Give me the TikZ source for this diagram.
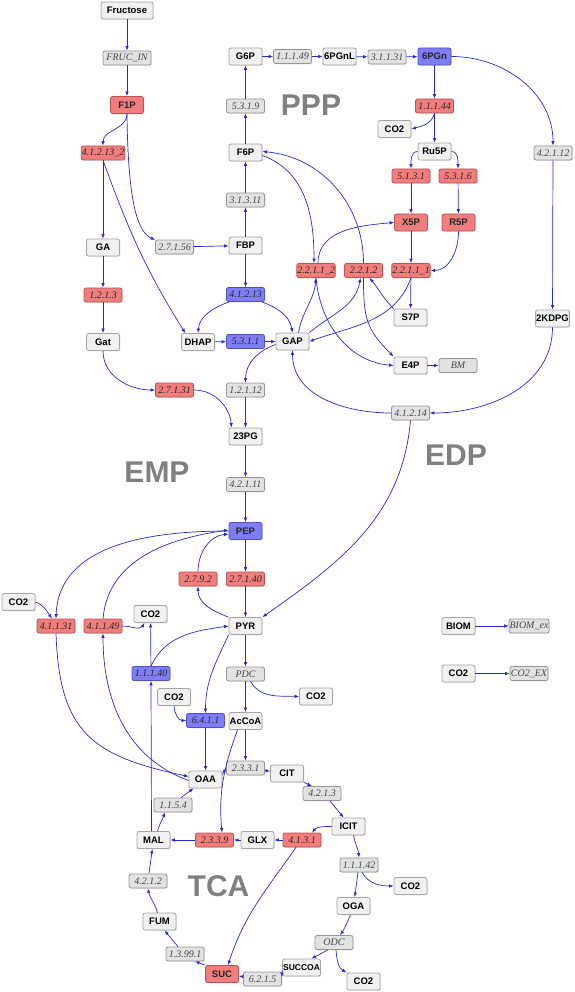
\documentclass[tikz,border=0pt]{standalone}
\usepackage{fontspec}
\setmainfont{Liberation Serif}
\setsansfont{Liberation Sans}
\usetikzlibrary{arrows.meta,shadows}
\definecolor{fluxblue}{RGB}{40,40,215}
\definecolor{metfill}{RGB}{241,241,241}
\definecolor{metline}{RGB}{165,165,165}
\definecolor{rxnfill}{RGB}{226,226,226}
\definecolor{rxnline}{RGB}{150,150,150}
\definecolor{rxntext}{RGB}{70,70,70}
\definecolor{hifill}{RGB}{242,125,125}
\definecolor{hiline}{RGB}{185,85,85}
\definecolor{lofill}{RGB}{126,126,246}
\definecolor{loline}{RGB}{80,80,200}

\begin{document}
\begin{tikzpicture}[x=1pt,y=1pt,
  met/.style={draw=metline,fill=metfill,rounded corners=2pt,line width=0.8pt,
    minimum width=33,minimum height=17,inner sep=0.5pt,
    drop shadow={opacity=0.2,shadow xshift=0.8pt,shadow yshift=-0.8pt},
    font=\sffamily\bfseries\fontsize{9.5}{10}\selectfont},
  rxn/.style={draw=rxnline,fill=rxnfill,rounded corners=2pt,line width=0.8pt,
    minimum width=38,minimum height=14,inner sep=0.5pt,text=rxntext,
    drop shadow={opacity=0.2,shadow xshift=0.8pt,shadow yshift=-0.8pt},
    font=\itshape\fontsize{10}{10}\selectfont},
  hi/.style={draw=hiline,fill=hifill,text=black!85},
  lo/.style={draw=loline,fill=lofill,text=black!85},
  flux/.style={draw=fluxblue,line width=0.7pt,-{Latex[length=4.5pt,width=3.5pt]}},
  pwlabel/.style={text=black!50,font=\sffamily\bfseries\fontsize{30}{30}\selectfont}]
  \useasboundingbox (0,0) rectangle (574,-992);

  \node[met,minimum width=52] (mFru) at (127,-10.5) {Fructose};
  \node[rxn,minimum width=48] (rFRUC) at (127,-58) {FRUC\_IN};
  \node[met,hi] (mF1P) at (127,-105) {F1P};
  \node[rxn,hi] (r41213b) at (103,-153) {4.1.2.13\_2};
  \node[met] (mG6P) at (245.5,-56.5) {G6P};
  \node[rxn] (r5319) at (245.5,-106) {5.3.1.9};
  \node[met] (mF6P) at (245.5,-152.5) {F6P};
  \node[rxn] (r31311) at (245.5,-200) {3.1.3.11};
  \node[met] (mFBP) at (245.5,-245.5) {FBP};
  \node[rxn] (r27156) at (174.5,-247) {2.7.1.56};
  \node[met] (mGA) at (103,-247.5) {GA};
  \node[rxn] (r11149) at (292.5,-56.5) {1.1.1.49};
  \node[met] (m6PGnL) at (339.5,-56.5) {6PGnL};
  \node[rxn] (r31131) at (387,-57) {3.1.1.31};
  \node[met,lo] (m6PGn) at (434.5,-56.5) {6PGn};
  \node[rxn,hi] (r11144) at (434.5,-106) {1.1.1.44};
  \node[met] (mCOa) at (394.5,-129) {CO2};
  \node[met] (mRu5P) at (434.5,-151.5) {Ru5P};
  \node[rxn,hi] (r5131) at (411,-176) {5.1.3.1};
  \node[rxn,hi] (r5316) at (458,-176) {5.3.1.6};
  \node[met,hi] (mX5P) at (411,-222.5) {X5P};
  \node[met,hi] (mR5P) at (458.5,-222.5) {R5P};
  \node[rxn] (r42112) at (553,-153) {4.2.1.12};
  \node[rxn,hi] (r2211b) at (316,-270.5) {2.2.1.1\_2};
  \node[rxn,hi] (r2212) at (363.5,-270.5) {2.2.1.2};
  \node[rxn,hi] (r2211a) at (411,-270.5) {2.2.1.1\_1};
  \node[met] (mS7P) at (410.5,-317.5) {S7P};
  \node[met] (m2KDPG) at (552.5,-318.5) {2KDPG};
  \node[met] (mGAP) at (292.5,-341.5) {GAP};
  \node[met] (mE4P) at (410.5,-365.5) {E4P};
  \node[rxn] (rBM) at (458,-365.5) {BM};
  \node[rxn] (r41214) at (410.5,-413) {4.1.2.14};
  \node[rxn,hi] (r1213) at (103,-295) {1.2.1.3};
  \node[rxn,lo] (r41213) at (245.5,-294.5) {4.1.2.13};
  \node[met] (mGat) at (103,-342) {Gat};
  \node[met] (mDHAP) at (198,-342) {DHAP};
  \node[rxn,lo] (r5311) at (245.5,-341.5) {5.3.1.1};
  \node[rxn] (r12112) at (245.5,-390) {1.2.1.12};
  \node[rxn,hi] (r27131) at (174.5,-390) {2.7.1.31};
  \node[met] (m23PG) at (245.5,-436.5) {23PG};
  \node[rxn] (r42111) at (245.5,-484.5) {4.2.1.11};
  \node[met,lo] (mPEP) at (245.5,-531) {PEP};
  \node[rxn,hi] (r2792) at (198,-579) {2.7.9.2};
  \node[rxn,hi] (r27140) at (245.5,-579) {2.7.1.40};
  \node[met] (mCOb) at (18.5,-602) {CO2};
  \node[rxn,hi] (r41131) at (56,-626) {4.1.1.31};
  \node[rxn,hi] (r41149) at (103,-626) {4.1.1.49};
  \node[met] (mCOc) at (150.5,-614) {CO2};
  \node[met] (mPYR) at (245.5,-626) {PYR};
  \node[rxn,lo] (r11140) at (151,-673.5) {1.1.1.40};
  \node[rxn] (rPDC) at (245.5,-674) {PDC};
  \node[met] (mCOd) at (174,-697) {CO2};
  \node[rxn,lo] (r6411) at (205.5,-720.5) {6.4.1.1};
  \node[met] (mAcCoA) at (245.5,-721) {AcCoA};
  \node[met] (mCOe) at (316,-696.5) {CO2};
  \node[met] (mBIOM) at (458.5,-626) {BIOM};
  \node[rxn] (rBIOMex) at (529,-626) {BIOM\_ex};
  \node[met] (mCOf) at (458.5,-673.5) {CO2};
  \node[rxn] (rCOEX) at (529,-673.5) {CO2\_EX};
  \node[rxn] (r2331) at (245.5,-768) {2.3.3.1};
  \node[met] (mOAA) at (205.5,-779.5) {OAA};
  \node[met] (mCIT) at (287,-773.5) {CIT};
  \node[rxn] (r1154) at (173,-805) {1.1.5.4};
  \node[rxn] (r4213) at (322,-793.5) {4.2.1.3};
  \node[met] (mICIT) at (348.5,-826.5) {ICIT};
  \node[met] (mMAL) at (153.5,-840) {MAL};
  \node[rxn,hi] (r2339) at (214.5,-840) {2.3.3.9};
  \node[met] (mGLX) at (257.5,-840) {GLX};
  \node[rxn,hi] (r4131) at (302,-840) {4.1.3.1};
  \node[rxn] (r11142) at (359,-865) {1.1.1.42};
  \node[met] (mCOg) at (410.5,-886) {CO2};
  \node[rxn] (r4212) at (148,-881) {4.2.1.2};
  \node[met] (mOGA) at (353.5,-906) {OGA};
  \node[met] (mFUM) at (159.5,-921.5) {FUM};
  \node[rxn] (rODC) at (334,-942.5) {ODC};
  \node[rxn] (r13991) at (185,-954) {1.3.99.1};
  \node[met] (mSUCCOA) at (301.5,-967.5) {\fontsize{8.5}{8.5}\selectfont SUCCOA};
  \node[met,hi] (mSUC) at (222,-974) {SUC};
  \node[rxn] (r6215) at (262.5,-979) {6.2.1.5};
  \node[met] (mCOh) at (363.5,-981.5) {CO2};

  \node[pwlabel] (lPPP) at (311,-105) {PPP};
  \node[pwlabel] (lEDP) at (456,-455) {EDP};
  \node[pwlabel] (lEMP) at (157,-472) {EMP};
  \node[pwlabel] (lTCA) at (218.5,-886) {TCA};

  \foreach \a/\b in {mFru/rFRUC,rFRUC/mF1P,r41213b/mGA,r27156/mFBP,mFBP/r31311,
    r31311/mF6P,mF6P/r5319,r5319/mG6P,mG6P/r11149,r11149/m6PGnL,m6PGnL/r31131,
    r31131/m6PGn,m6PGn/r11144,r11144/mRu5P,r5131/mX5P,r5316/mR5P,mX5P/r2211a,
    r2211a/mS7P,r42112/m2KDPG,mE4P/rBM,mFBP/r41213,mDHAP/r5311,r5311/mGAP,
    r12112/m23PG,mGA/r1213,r1213/mGat,m23PG/r42111,r42111/mPEP,mPEP/r27140,
    r27140/mPYR,r11140/mCOc,r6411/mOAA,mPYR/rPDC,rPDC/mAcCoA,mAcCoA/r2331,
    r2331/mCIT,r4131/mGLX,mGLX/r2339,r2339/mMAL,r6215/mSUC,mBIOM/rBIOMex,
    mCOf/rCOEX,r11142/mOGA,r4212/mMAL}
    \draw[flux] (\a) -- (\b);

  \draw[flux] (mF1P.south) to[out=270,in=90] (r41213b.north);
  \draw[flux] (mF1P.south) .. controls (128,-205) and (138,-232) .. (r27156.160);
  \draw[flux] (r41213b.south) to[out=290,in=122] (mDHAP.145);
  \draw[flux] (r11144.south) to[out=255,in=15] (mCOa.east);
  \draw[flux] (mRu5P.west) to[out=180,in=90] (r5131.north);
  \draw[flux] (mRu5P.east) to[out=0,in=90] (r5316.north);
  \draw[flux] (mR5P.south) to[out=270,in=0] (r2211a.east);
  \draw[flux] (r2211a.south) to[out=250,in=20] (mGAP.east);
  \draw[flux] (mS7P.north west) to[out=135,in=-50] ([xshift=6pt]r2212.south);
  \draw[flux] (mGAP.north east) to[out=40,in=-100] ([xshift=-3pt]r2212.south);
  \draw[flux] ([xshift=6pt]mGAP.north) to[out=80,in=-95] (r2211b.south);
  \draw[flux] ([yshift=-3pt]mF6P.east) to[out=-20,in=90] ([xshift=-2pt]r2211b.north);
  \draw[flux] ([xshift=2pt]r2211b.north) to[out=90,in=185] (mX5P.west);
  \draw[flux] (r2211b.south) to[out=-85,in=175] (mE4P.west);
  \draw[flux] (r2212.north) to[out=90,in=-5] ([yshift=1pt]mF6P.east);
  \draw[flux] (r2212.south) to[out=-90,in=135,looseness=1.2] (mE4P.north west);
  \draw[flux] ([xshift=3pt]r41213.south west) to[out=200,in=85] (mDHAP.north);
  \draw[flux] ([xshift=-3pt]r41213.south east) to[out=-20,in=100] (mGAP.north);
  \draw[flux] ([yshift=-3pt]mGAP.west) to[out=200,in=90] (r12112.north);
  \draw[flux] (mGat.south) to[out=270,in=180] (r27131.west);
  \draw[flux] (r27131.east) to[out=0,in=95] ([xshift=-14pt]m23PG.north);
  \draw[flux] (mPYR.north west) to[out=160,in=270] (r2792.south);
  \draw[flux] (r2792.north) to[out=90,in=185] ([yshift=-3pt]mPEP.west);
  \draw[flux] (m6PGn.east) to[out=0,in=90] (r42112.north);
  \draw[flux] (m2KDPG.south) to[out=270,in=0] (r41214.east);
  \draw[flux] (r41214.west) to[out=180,in=270] (mGAP.south);
  \draw[flux] (r41214.south) to[out=265,in=35] (mPYR.north east);
  \draw[flux] (mCOb.east) to[out=-20,in=125] ([xshift=-4pt]r41131.north);
  \draw[flux] (mPEP.west) to[out=180,in=88] (r41131.north);
  \draw[flux] (r41149.north) to[out=85,in=188] ([yshift=1pt]mPEP.west);
  \draw[flux] (r41131.south) to[out=-88,in=168,looseness=1.3] ([yshift=3pt]mOAA.west);
  \draw[flux] ([yshift=-1pt]mOAA.west) to[out=160,in=-90] (r41149.south);
  \draw[flux] (r41149.east) to[out=0,in=240] ([xshift=-6pt]mCOc.south);
  \draw[flux] ([xshift=-2pt]mMAL.north) -- (r11140.south);
  \draw[flux] (r11140.north) to[out=65,in=188] (mPYR.west);
  \draw[flux] (mPYR.south west) to[out=245,in=90] (r6411.north);
  \draw[flux] (mCOd.south) to[out=270,in=180] (r6411.west);
  \draw[flux] ([xshift=5pt]rPDC.south) to[out=-60,in=178] (mCOe.west);
  \draw[flux] ([xshift=-8pt]mAcCoA.south) to[out=250,in=95] ([xshift=7.5pt]r2339.north);
  \draw[flux] ([yshift=5pt]mOAA.east) -- (r2331.west);
  \draw[flux] (mCIT.south east) -- ([xshift=-10pt]r4213.north);
  \draw[flux] ([xshift=8pt]r4213.south) -- ([xshift=-5pt]mICIT.north);
  \draw[flux] (mICIT.west) to[out=180,in=50] ([xshift=10pt]r4131.north);
  \draw[flux] ([xshift=-6pt]r4131.south) to[out=235,in=72] ([xshift=6pt]mSUC.north);
  \draw[flux] ([xshift=4pt]mMAL.north) to[out=75,in=250] ([xshift=-8pt]r1154.south);
  \draw[flux] ([xshift=8pt]r1154.north) -- ([xshift=-12pt]mOAA.south);
  \draw[flux] ([xshift=5pt]mICIT.south) to[out=-80,in=95] (r11142.north);
  \draw[flux] ([xshift=3pt]r11142.south) to[out=-60,in=180] (mCOg.west);
  \draw[flux] ([xshift=-3pt]mOGA.south) to[out=245,in=55] ([xshift=6pt]rODC.north);
  \draw[flux] ([xshift=-6pt]rODC.south) -- ([xshift=10pt]mSUCCOA.north);
  \draw[flux] ([xshift=2pt]rODC.south) to[out=-85,in=150] (mCOh.north west);
  \draw[flux] ([yshift=-3pt]mSUCCOA.west) -- ([yshift=2pt]r6215.east);
  \draw[flux] (mSUC.north west) -- ([xshift=10pt]r13991.south);
  \draw[flux] ([xshift=-7pt]r13991.north) -- ([xshift=5pt]mFUM.south);
  \draw[flux] ([xshift=-2pt]mFUM.north) to[out=105,in=-80] (r4212.south);
\end{tikzpicture}
\end{document}
